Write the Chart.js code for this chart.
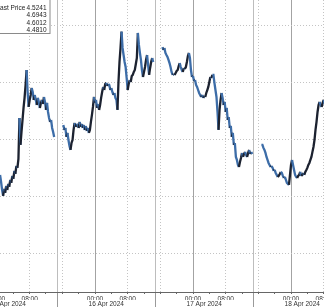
<!DOCTYPE html>
<html><head><meta charset="utf-8">
<script src="https://cdn.jsdelivr.net/npm/chart.js@4.4.1/dist/chart.umd.min.js"></script>
<style>html,body{margin:0;padding:0;background:#fff;overflow:hidden}canvas{display:block}</style>
</head><body>
<canvas id="c" width="324" height="307"></canvas>
<script>
// Time is counted in hours from 15 Apr 2024 00:00; price bars are 15 minutes apart.
const sessionStartHours = [0.75, 16.25, 40.5, 64.75];
const barHours = 0.25;

const session15Apr = [4.5690,4.5628,4.5558,4.5506,4.5567,4.5532,4.5593,4.5558,4.5611,4.5585,
  4.5646,4.5620,4.5681,4.5655,4.5725,4.5698,4.5768,4.5751,4.5829,4.6188,
  4.5952,4.6065,4.6170,4.6275,4.6363,4.6476,4.6607,4.6415,4.6284,4.6345,
  4.6389,4.6450,4.6415,4.6345,4.6389,4.6345,4.6301,4.6363,4.6328,4.6275,
  4.6319,4.6345,4.6310,4.6371,4.6328,4.6258,4.6319,4.6240,4.6188,4.6153,
  4.6170,4.6100,4.6065,4.6022];
const session16Apr = [4.6127,4.6083,4.6100,4.6022,4.6057,4.5995,4.5943,4.5908,4.5969,4.5995,
  4.6083,4.6144,4.6109,4.6135,4.6127,4.6100,4.6153,4.6109,4.6135,4.6100,
  4.6127,4.6083,4.6118,4.6074,4.6100,4.6057,4.6083,4.6153,4.6214,4.6284,
  4.6371,4.6319,4.6345,4.6275,4.6310,4.6258,4.6301,4.6363,4.6415,4.6459,
  4.6432,4.6485,4.6494,4.6467,4.6485,4.6476,4.6432,4.6450,4.6415,4.6389,
  4.6406,4.6363,4.6345,4.6258,4.6502,4.6677,4.6800,4.6943,4.6800,4.6738,
  4.6677,4.6633,4.6537,4.6432,4.6485,4.6520,4.6502,4.6555,4.6564,4.6590,
  4.6607,4.6660,4.6712,4.6931,4.6826,4.6756,4.6695,4.6607,4.6546,4.6590,
  4.6633,4.6695,4.6738,4.6651,4.6564,4.6625,4.6677,4.6712,4.6677];
const session17Apr = [4.6808,4.6782,4.6800,4.6756,4.6738,4.6721,4.6695,4.6668,4.6633,4.6590,
  4.6564,4.6572,4.6564,4.6581,4.6598,4.6607,4.6642,4.6668,4.6633,4.6607,
  4.6590,4.6625,4.6616,4.6633,4.6677,4.6730,4.6756,4.6712,4.6607,4.6546,
  4.6555,4.6511,4.6520,4.6476,4.6459,4.6432,4.6406,4.6389,4.6371,4.6389,
  4.6363,4.6380,4.6371,4.6406,4.6432,4.6459,4.6502,4.6546,4.6537,4.6564,
  4.6564,4.6494,4.6432,4.6371,4.6240,4.6083,4.6258,4.6345,4.6406,4.6363,
  4.6301,4.6328,4.6240,4.6275,4.6170,4.6196,4.6100,4.6118,4.6022,4.6057,
  4.5952,4.5969,4.5847,4.5821,4.5777,4.5759,4.5803,4.5838,4.5882,4.5847,
  4.5873,4.5891,4.5864,4.5847,4.5882,4.5908,4.5873,4.5891,4.5873];
const session18Apr = [4.5952,4.5952,4.5926,4.5908,4.5882,4.5847,4.5821,4.5794,4.5777,4.5759,
  4.5768,4.5751,4.5725,4.5733,4.5707,4.5690,4.5672,4.5681,4.5698,4.5716,
  4.5707,4.5681,4.5663,4.5672,4.5646,4.5620,4.5611,4.5602,4.5690,4.5777,
  4.5821,4.5777,4.5733,4.5690,4.5672,4.5663,4.5681,4.5690,4.5716,4.5681,
  4.5690,4.5707,4.5690,4.5716,4.5733,4.5751,4.5777,4.5794,4.5821,4.5847,
  4.5891,4.5934,4.5995,4.6083,4.6153,4.6240,4.6301,4.6328,4.6301,4.6284,
  4.6319,4.6345,4.6310];
const sessions = [session15Apr, session16Apr, session17Apr, session18Apr];

const xMinHours = 0.735;
const xMaxHours = 80.08;
const timeTickHours = [0,4,8,12,16,20,24,28,32,36,40,44,48,52,56,60,64,68,72,76,80];
const midnightHours = [0,24,48,72];
const intradayGridHours = [8,16,32,40,56,64,80];
const sessionBreakHours = [14.75,38.75,62.75];
const dateLabels = ['15 Apr 2024','16 Apr 2024','17 Apr 2024','18 Apr 2024'];
const dateCenterHours = [2.75,26.75,50.75,74.75];

const yMin = 4.4666, yMax = 4.7219;
const yTicks = [4.50,4.55,4.60,4.65,4.70];

const legendLabels = ['Last Price','','',''];
const legendValues = ['4.5241','4.6943','4.6012','4.4810'];

// build the point list (null breaks the line between sessions)
const points = [];
sessions.forEach((vals, s) => {
  vals.forEach((v, i) => points.push({x: sessionStartHours[s] + i * barHours, y: v}));
  points.push({x: sessionStartHours[s] + vals.length * barHours, y: null});
});

const FONT = 'Liberation Sans';
const setTicks = arr => s => { s.ticks = arr.map(v => ({value: v})); };
const zeroH = s => { s.height = 0; s.paddingLeft = 0; s.paddingRight = 0; };

const legendBox = {
  id: 'legendBox',
  afterDraw(chart) {
    const {ctx, chartArea} = chart;
    const L = chartArea.left, T = chartArea.top;
    ctx.save();
    ctx.fillStyle = '#ffffff';
    ctx.fillRect(L - 2, T - 2, 52, 35.5);
    ctx.strokeStyle = '#8a8a8a';
    ctx.lineWidth = 1;
    ctx.strokeRect(L - 2.5, T - 2.5, 52.5, 36);
    ctx.font = '6.5px "' + FONT + '"';
    ctx.fillStyle = '#222';
    ctx.textBaseline = 'middle';
    const rowY = [8, 15.5, 23, 30.3];
    legendLabels.forEach((lab, i) => {
      ctx.textAlign = 'left';
      if (lab) ctx.fillText(lab, L - 3.5, T + rowY[i]);
      ctx.textAlign = 'right';
      ctx.fillText(legendValues[i], L + 46.5, T + rowY[i]);
    });
    ctx.restore();
  }
};

new Chart(document.getElementById('c'), {
  type: 'line',
  data: {
    datasets: [{
      data: points,
      borderWidth: 2.3,
      pointRadius: 0,
      spanGaps: false,
      tension: 0,
      borderColor: '#2e5a92',
      segment: {
        borderColor: c => (c.p1.parsed.y > c.p0.parsed.y ? '#1c2230' : '#3d6da8')
      }
    }]
  },
  options: {
    responsive: false,
    animation: false,
    devicePixelRatio: 1,
    layout: {padding: 0, autoPadding: false},
    plugins: {legend: {display: false}, tooltip: {enabled: false}},
    scales: {
      x: {
        type: 'linear', min: xMinHours, max: xMaxHours, position: 'bottom', weight: 1,
        afterBuildTicks: setTicks(timeTickHours),
        afterFit: s => { s.height = 8; s.paddingLeft = 0; s.paddingRight = 0; },
        ticks: {
          autoSkip: false, maxRotation: 0, padding: 1, color: '#333',
          font: {family: FONT, size: 6.5},
          callback: v => (v % 24 === 0 ? '00:00' : (v % 24 === 8 ? '08:00' : ''))
        },
        grid: {drawOnChartArea: false, drawTicks: true, tickLength: 2, tickColor: '#666'},
        border: {display: true, color: '#666', width: 1}
      },
      xDate: {
        type: 'linear', min: xMinHours, max: xMaxHours, position: 'bottom', weight: 2,
        afterBuildTicks: setTicks(dateCenterHours),
        afterFit: s => { s.height = 7; s.paddingLeft = 0; s.paddingRight = 0; },
        ticks: {
          autoSkip: false, maxRotation: 0, padding: 0, color: '#333',
          font: {family: FONT, size: 6.5},
          callback: (v, i) => dateLabels[i]
        },
        grid: {display: false, drawTicks: false},
        border: {display: false}
      },
      xSep: {
        type: 'linear', min: xMinHours, max: xMaxHours, position: 'bottom', weight: 0,
        afterBuildTicks: setTicks(sessionBreakHours),
        afterFit: zeroH,
        ticks: {display: false},
        grid: {color: '#bdbdbd', lineWidth: 1, drawTicks: true, tickLength: 16, tickColor: '#9a9a9a'},
        border: {display: false}
      },
      xMid: {
        type: 'linear', min: xMinHours, max: xMaxHours, position: 'top',
        afterBuildTicks: setTicks(midnightHours),
        afterFit: zeroH,
        ticks: {display: false},
        grid: {color: '#a3a3a3', lineWidth: 1, drawTicks: false},
        border: {display: false}
      },
      xDot: {
        type: 'linear', min: xMinHours, max: xMaxHours, position: 'top',
        afterBuildTicks: setTicks(intradayGridHours),
        afterFit: zeroH,
        ticks: {display: false},
        grid: {color: '#c4c4c4', lineWidth: 1, drawTicks: false},
        border: {display: false, dash: [1, 2]}
      },
      y: {
        type: 'linear', min: yMin, max: yMax, position: 'right',
        afterBuildTicks: setTicks(yTicks),
        afterFit: s => { s.width = 0; },
        ticks: {display: false},
        grid: {color: '#c4c4c4', lineWidth: 1, drawTicks: false},
        border: {display: false, dash: [1, 2]}
      }
    }
  },
  plugins: [legendBox]
});
</script>
</body></html>
